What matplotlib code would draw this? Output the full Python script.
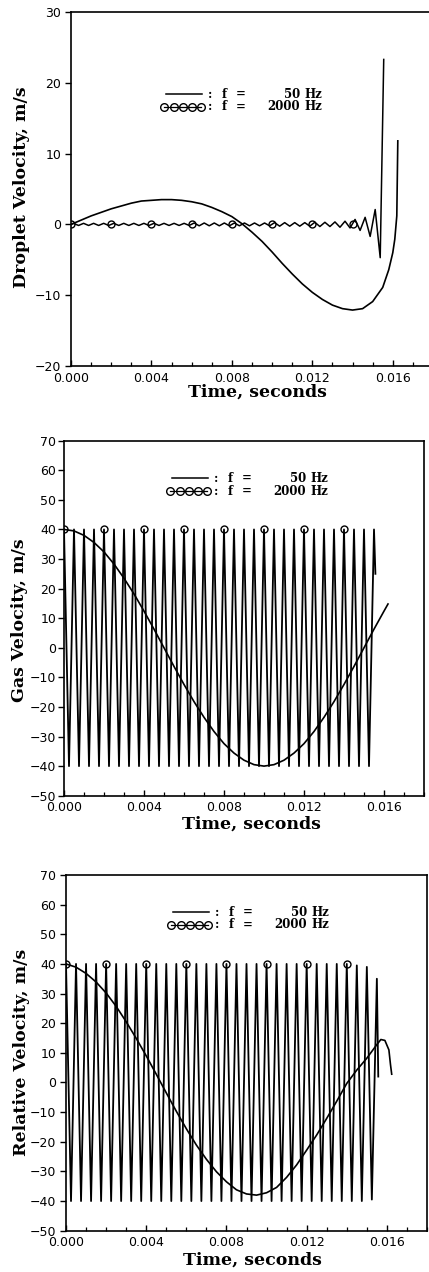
import numpy as np
import matplotlib
matplotlib.use("Agg")
import matplotlib.pyplot as plt
from matplotlib.lines import Line2D
from matplotlib.ticker import MultipleLocator, FormatStrFormatter

# ---------------- data (time in milliseconds, velocity in m/s) ----------------
# Panel 1: droplet velocity
drop50_t = [0, .5, 1, 1.5, 2, 2.5, 3, 3.5, 4, 4.5, 5, 5.5, 6, 6.5, 7, 7.5, 8, 8.5,
            9, 9.5, 10, 10.5, 11, 11.5, 12, 12.5, 13, 13.5, 14, 14.5, 15, 15.5,
            15.8, 16, 16.1, 16.2, 16.25]
drop50_v = [0, 0.6, 1.2, 1.7, 2.2, 2.6, 3.0, 3.3, 3.4, 3.5, 3.5, 3.4, 3.2, 2.9, 2.4,
            1.8, 1.1, 0.1, -1.1, -2.4, -3.9, -5.5, -7.0, -8.4, -9.6, -10.6, -11.4,
            -11.9, -12.1, -11.9, -10.9, -8.9, -6.4, -4.0, -2.1, 1.2, 11.8]

drop2k_t = [0, 0.125, 0.375, 0.625, 0.875, 1.125, 1.375, 1.625, 1.875, 2.125, 2.375,
            2.625, 2.875, 3.125, 3.375, 3.625, 3.875, 4.125, 4.375, 4.625, 4.875,
            5.125, 5.375, 5.625, 5.875, 6.125, 6.375, 6.625, 6.875, 7.125, 7.375,
            7.625, 7.875, 8.125, 8.375, 8.625, 8.875, 9.125, 9.375, 9.625, 9.875,
            10.125, 10.375, 10.625, 10.875, 11.125, 11.375, 11.625, 11.875, 12.125,
            12.375, 12.625, 12.875, 13.125, 13.375, 13.625, 13.875, 14.125, 14.375,
            14.625, 14.875, 15.125, 15.375, 15.55]
drop2k_v = [0,
            0.15, -0.15, 0.15, -0.15, 0.15, -0.15, 0.15, -0.15,
            0.15, -0.15, 0.15, -0.15, 0.15, -0.15, 0.15, -0.15,
            0.15, -0.15, 0.15, -0.15, 0.15, -0.15, 0.15, -0.15,
            0.2, -0.2, 0.2, -0.2, 0.2, -0.2, 0.2, -0.2,
            0.2, -0.2, 0.2, -0.2, 0.2, -0.2, 0.2, -0.2,
            0.25, -0.25, 0.25, -0.25, 0.25, -0.25, 0.25, -0.25,
            0.3, -0.3, 0.3, -0.3, 0.35, -0.4, 0.45, -0.5,
            0.7, -0.85, 1.0, -1.7, 2.1, -4.7, 23.3]
drop2k_mark_t = [0, 2, 4, 6, 8, 10, 12, 14]
drop2k_mark_v = [0, 0, 0, 0, 0, 0, 0, 0]

# Panel 2: gas velocity
gas50_t = [0, .5, 1, 1.5, 2, 2.5, 3, 3.5, 4, 4.5, 5, 5.5, 6, 6.5, 7, 7.5, 8, 8.5,
           9, 9.5, 10, 10.5, 11, 11.5, 12, 12.5, 13, 13.5, 14, 14.5, 15, 15.5, 16, 16.2]
gas50_v = [40, 39.5, 38.0, 35.6, 32.4, 28.3, 23.5, 18.2, 12.4, 6.3, 0, -6.3, -12.4,
           -18.2, -23.5, -28.3, -32.4, -35.6, -38.0, -39.5, -40, -39.5, -38.0, -35.6,
           -32.4, -28.3, -23.5, -18.2, -12.4, -6.3, 0, 6.3, 12.4, 14.8]

osc2k_t = [0, .25, .5, .75, 1, 1.25, 1.5, 1.75, 2, 2.25, 2.5, 2.75, 3, 3.25, 3.5, 3.75,
           4, 4.25, 4.5, 4.75, 5, 5.25, 5.5, 5.75, 6, 6.25, 6.5, 6.75, 7, 7.25, 7.5,
           7.75, 8, 8.25, 8.5, 8.75, 9, 9.25, 9.5, 9.75, 10, 10.25, 10.5, 10.75, 11,
           11.25, 11.5, 11.75, 12, 12.25, 12.5, 12.75, 13, 13.25, 13.5, 13.75, 14,
           14.25, 14.5, 14.75, 15, 15.25, 15.5, 15.57]
gas2k_v = [40, -40, 40, -40, 40, -40, 40, -40,
           40, -40, 40, -40, 40, -40, 40, -40,
           40, -40, 40, -40, 40, -40, 40, -40,
           40, -40, 40, -40, 40, -40, 40, -40,
           40, -40, 40, -40, 40, -40, 40, -40,
           40, -40, 40, -40, 40, -40, 40, -40,
           40, -40, 40, -40, 40, -40, 40, -40,
           40, -40, 40, -40, 40, -40, 40, 25]

# Panel 3: relative velocity
rel50_t = [0, .5, 1, 1.5, 2, 2.5, 3, 3.5, 4, 4.5, 5, 5.5, 6, 6.5, 7, 7.5, 8, 8.5,
           9, 9.5, 10, 10.5, 11, 11.5, 12, 12.5, 13, 13.5, 14, 14.5, 15, 15.5,
           15.7, 15.9, 16.1, 16.18, 16.24]
rel50_v = [40, 38.9, 36.8, 33.9, 30.2, 25.7, 20.5, 14.9, 9.0, 2.8, -3.5, -9.7, -15.6,
           -21.1, -25.9, -30.1, -33.5, -36.2, -37.6, -38.0, -37.2, -35.4, -32.0,
           -27.8, -22.8, -17.7, -12.1, -6.3, -0.3, 4.2, 8.2, 12.8,
           14.5, 14.2, 11.0, 6.0, 2.8]
rel2k_v = [40, -40, 40, -40, 40, -40, 40, -40,
           40, -40, 40, -40, 40, -40, 40, -40,
           40, -40, 40, -40, 40, -40, 40, -40,
           40, -40, 40, -40, 40, -40, 40, -40,
           40, -40, 40, -40, 40, -40, 40, -40,
           40, -40, 40, -40, 40, -40, 40, -40,
           40, -40, 40, -40, 40, -40, 40, -40,
           40, -40, 39.5, -40, 39, -39.5, 35, 2]

ylabels = ["Droplet Velocity, m/s", "Gas Velocity, m/s", "Relative Velocity, m/s"]
xlabel = "Time, seconds"
legend_freqs = ["50", "2000"]

# ---------------- figure ----------------
W, H = 429, 1272
fig = plt.figure(figsize=(W / 100, H / 100), dpi=100)


def fx(x):
    return x / W


def fy(y):
    return 1 - y / H


def add_axes(l, t, r, b):
    return fig.add_axes([fx(l), fy(b), (r - l) / W, (b - t) / H])


SERIF = dict(family="DejaVu Serif", weight="bold")
panels = [
    dict(box=(71, 12, 433, 366), ylim=(-20, 30), ystep=10, xpad=4.5, ypad=3,
         ylab=(22, 187), xlab=(257, 397), leg=(166, 94)),
    dict(box=(64, 440.7, 424, 795.7), ylim=(-50, 70), ystep=10, xpad=4.0, ypad=1.5,
         ylab=(20, 620), xlab=(251, 829), leg=(172, 478)),
    dict(box=(66, 875, 427, 1230.7), ylim=(-50, 70), ystep=10, xpad=4.0, ypad=3,
         ylab=(22, 1052), xlab=(252, 1265), leg=(173, 912)),
]

ms = 1e-3
series = [
    (drop50_t, drop50_v, drop2k_t, drop2k_v),
    (gas50_t, gas50_v, osc2k_t, gas2k_v),
    (rel50_t, rel50_v, osc2k_t, rel2k_v),
]

for i, (p, s) in enumerate(zip(panels, series)):
    ax = add_axes(*p["box"])
    t50, v50, t2k, v2k = s
    ax.plot(np.array(t50) * ms, v50, color="black", lw=1.2, zorder=3)
    if i == 0:
        ax.plot(np.array(t2k) * ms, v2k, color="black", lw=1.1, zorder=3)
        ax.plot(np.array(drop2k_mark_t) * ms, drop2k_mark_v, ls="none", marker="o",
                ms=5, mfc="none", mec="black", mew=1.0, zorder=4)
    else:
        ax.plot(np.array(t2k) * ms, v2k, color="black", lw=1.3, marker="o",
                markevery=8, ms=5, mfc="none", mec="black", mew=1.0, zorder=3)
    ax.set_xlim(0, 0.018)
    ax.set_ylim(*p["ylim"])
    ax.xaxis.set_major_locator(MultipleLocator(0.004))
    ax.xaxis.set_minor_locator(MultipleLocator(0.001))
    ax.xaxis.set_major_formatter(FormatStrFormatter("%.3f"))
    ax.yaxis.set_major_locator(MultipleLocator(p["ystep"]))
    ax.tick_params(axis="x", which="major", direction="in", length=4.5, width=1.0,
                   pad=p["xpad"], labelsize=9)
    ax.tick_params(axis="x", which="minor", direction="in", length=3, width=0.9)
    ax.tick_params(axis="y", which="major", direction="out", length=4, width=1.0,
                   pad=p["ypad"], labelsize=9)
    for lab in ax.get_xticklabels() + ax.get_yticklabels():
        lab.set_family("DejaVu Sans")
    for sp in ax.spines.values():
        sp.set_linewidth(1.2)

    # axis labels
    fig.text(fx(p["ylab"][0]), fy(p["ylab"][1]), ylabels[i], rotation=90,
             ha="center", va="center", fontsize=12.5, **SERIF)
    fig.text(fx(p["xlab"][0]), fy(p["xlab"][1]), xlabel, ha="center",
             va="baseline", fontsize=12.5, **SERIF)

    # legend drawn by hand
    L, y1 = p["leg"]
    y2 = y1 + 13
    fig.add_artist(Line2D([fx(L), fx(L + 36)], [fy(y1), fy(y1)], color="black",
                          lw=1.1))
    cx = [L - 2, L + 8, L + 17, L + 26, L + 35]
    fig.add_artist(Line2D([fx(c) for c in cx], [fy(y2)] * 5, color="black",
                          lw=0.9, marker="o", ms=5.5, mfc="none", mec="black",
                          mew=1.0))
    for yy, fr in zip((y1, y2), legend_freqs):
        fig.text(fx(L + 42), fy(yy), ":", ha="left", va="center", fontsize=8.5,
                 **SERIF)
        fig.text(fx(L + 56), fy(yy), "f", ha="left", va="center", fontsize=8.5,
                 **SERIF)
        fig.text(fx(L + 70), fy(yy), "=", ha="left", va="center", fontsize=8.5,
                 **SERIF)
        fig.text(fx(L + 134), fy(yy), fr, ha="right", va="center", fontsize=8.5,
                 **SERIF)
        fig.text(fx(L + 138), fy(yy), "Hz", ha="left", va="center", fontsize=8.5,
                 **SERIF)

fig.savefig("out.png", dpi=100)
